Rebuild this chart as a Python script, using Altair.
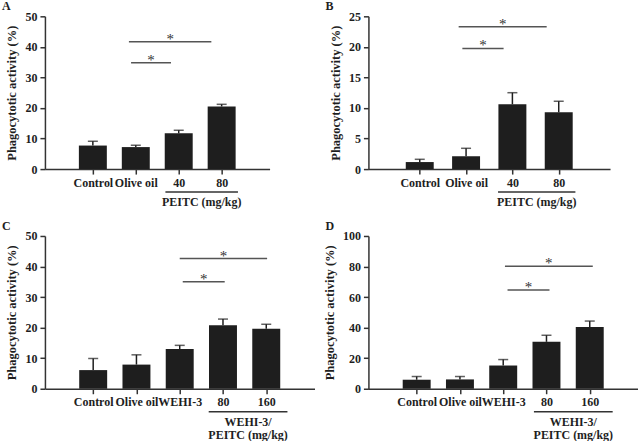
import altair as alt
import pandas as pd

# ---------------- data ----------------
a_labels = ["Control", "Olive oil", "40", "80"]
a_values = [7.7, 7.2, 11.7, 20.5]
a_err = [9.1, 7.8, 12.7, 21.2]
a_sig_x1 = [1.89, 1.84]
a_sig_x2 = [2.82, 3.76]
a_sig_y = [34.8, 41.7]
a_group_x = [2.69, 4.38]
a_group_text = ["PEITC (mg/kg)"]

b_labels = ["Control", "Olive oil", "40", "80"]
b_values = [1.15, 2.1, 10.6, 9.3]
b_err = [1.6, 3.4, 12.5, 11.1]
b_sig_x1 = [1.92, 1.84]
b_sig_x2 = [2.81, 3.74]
b_sig_y = [19.75, 23.3]
b_group_x = [2.69, 4.36]
b_group_text = ["PEITC (mg/kg)"]

c_labels = ["Control", "Olive oil", "WEHI-3", "80", "160"]
c_values = [6.1, 7.9, 13.0, 20.8, 19.6]
c_err = [9.9, 11.1, 14.2, 22.8, 21.1]
c_sig_x1 = [3.07, 3.0]
c_sig_x2 = [4.04, 5.02]
c_sig_y = [35.0, 42.6]
c_group_x = [3.67, 5.49]
c_group_text = ["WEHI-3/", "PEITC (mg/kg)"]

d_labels = ["Control", "Olive oil", "WEHI-3", "80", "160"]
d_values = [5.9, 6.1, 15.2, 30.7, 40.4]
d_err = [8.0, 8.0, 19.1, 35.0, 44.3]
d_sig_x1 = [3.1, 3.04]
d_sig_x2 = [4.07, 5.07]
d_sig_y = [64.6, 80.2]
d_group_x = [3.71, 5.53]
d_group_text = ["WEHI-3/", "PEITC (mg/kg)"]

FONT = "Liberation Serif"
INK = "#1e1e1e"


def panel(letter, labels, values, errs, ymax, ystep, xmax, width,
          sig_x1, sig_x2, sig_y, group_x, group_text):
    n = len(labels)
    pos = list(range(1, n + 1))
    df = pd.DataFrame({"pos": pos, "value": values, "err": errs})
    label_arr = "[" + ",".join("'" + s + "'" for s in labels) + "]"
    xscale = alt.Scale(domain=[0, xmax], nice=False, zero=False)
    yscale = alt.Scale(domain=[0, ymax], nice=False)
    unit = ymax / 153.0  # data units per pixel (used for below-axis annotations)

    xaxis = alt.Axis(values=pos, labelExpr=label_arr + "[datum.value-1]",
                     title=None, grid=False, labelPadding=3,
                     labelFlush=False, labelOverlap=False)
    yaxis = alt.Axis(values=list(range(0, ymax + 1, ystep)),
                     title="Phagocytotic activity (%)", grid=False,
                     titlePadding=6, labelOverlap=False, labelPadding=3)

    def X(f):
        return alt.X(f, scale=xscale, axis=xaxis)

    def Y(f):
        return alt.Y(f, scale=yscale, axis=yaxis)

    bars = alt.Chart(df).mark_bar(size=28, color=INK).encode(x=X("pos:Q"), y=Y("value:Q"))
    err_rule = alt.Chart(df).mark_rule(color=INK, strokeWidth=1.5).encode(
        x=X("pos:Q"), y=Y("value:Q"), y2="err:Q")
    err_cap = alt.Chart(df).mark_tick(color=INK, size=10, thickness=1.5,
                                      orient="horizontal").encode(
        x=X("pos:Q"), y=Y("err:Q"))

    sig = pd.DataFrame({"x1": sig_x1, "x2": sig_x2, "y": sig_y})
    sig["xm"] = (sig["x1"] + sig["x2"]) / 2
    sig["star"] = "*"
    sig_lines = alt.Chart(sig).mark_rule(color="#555555", strokeWidth=1.5).encode(
        x=X("x1:Q"), x2="x2:Q", y=Y("y:Q"))
    stars = alt.Chart(sig).mark_text(font=FONT, fontSize=15, color="#333333",
                                     baseline="alphabetic", dy=2).encode(
        x=X("xm:Q"), y=Y("y:Q"), text="star:N")

    gl = pd.DataFrame({"x1": [group_x[0]], "x2": [group_x[1]], "y": [-23 * unit]})
    gline = alt.Chart(gl).mark_rule(color="#333333", strokeWidth=1.5).encode(
        x=X("x1:Q"), x2="x2:Q", y=Y("y:Q"))
    gt = pd.DataFrame({"x": [(group_x[0] + group_x[1]) / 2] * len(group_text),
                       "y": [-(33 + 13 * i) * unit for i in range(len(group_text))],
                       "t": group_text})
    gtext = alt.Chart(gt).mark_text(font=FONT, fontSize=12, fontWeight="bold",
                                    color=INK, baseline="middle").encode(
        x=X("x:Q"), y=Y("y:Q"), text="t:N")

    return alt.layer(bars, err_rule, err_cap, sig_lines, stars, gline, gtext).properties(
        width=width, height=153,
        title=alt.TitleParams(letter, anchor="start", frame="group", dx=-43, offset=-3,
                              fontSize=12, font=FONT, fontWeight="bold", color=INK))


A = panel("A", a_labels, a_values, a_err, 50, 10, 5, 225,
          a_sig_x1, a_sig_x2, a_sig_y, a_group_x, a_group_text)
B = panel("B", b_labels, b_values, b_err, 25, 5, 5, 242,
          b_sig_x1, b_sig_x2, b_sig_y, b_group_x, b_group_text)
C = panel("C", c_labels, c_values, c_err, 50, 10, 6, 270,
          c_sig_x1, c_sig_x2, c_sig_y, c_group_x, c_group_text)
D = panel("D", d_labels, d_values, d_err, 100, 20, 6, 270,
          d_sig_x1, d_sig_x2, d_sig_y, d_group_x, d_group_text)

chart = alt.hconcat(
    alt.vconcat(A, C, spacing=11),
    alt.vconcat(B, D, spacing=11),
    spacing=8,
).properties(
    padding={"left": 2, "top": 0, "right": 0, "bottom": 0},
    background="white",
).configure_view(
    stroke=None
).configure_axis(
    labelFont=FONT, labelFontWeight="bold", labelFontSize=12, labelColor=INK,
    titleFont=FONT, titleFontWeight="bold", titleFontSize=12.5, titleColor=INK,
    domainColor="#333333", domainWidth=1.5, tickColor="#333333", tickWidth=1.5, tickSize=5,
)

chart.save("out.html", embed_options={"renderer": "svg", "actions": False})
